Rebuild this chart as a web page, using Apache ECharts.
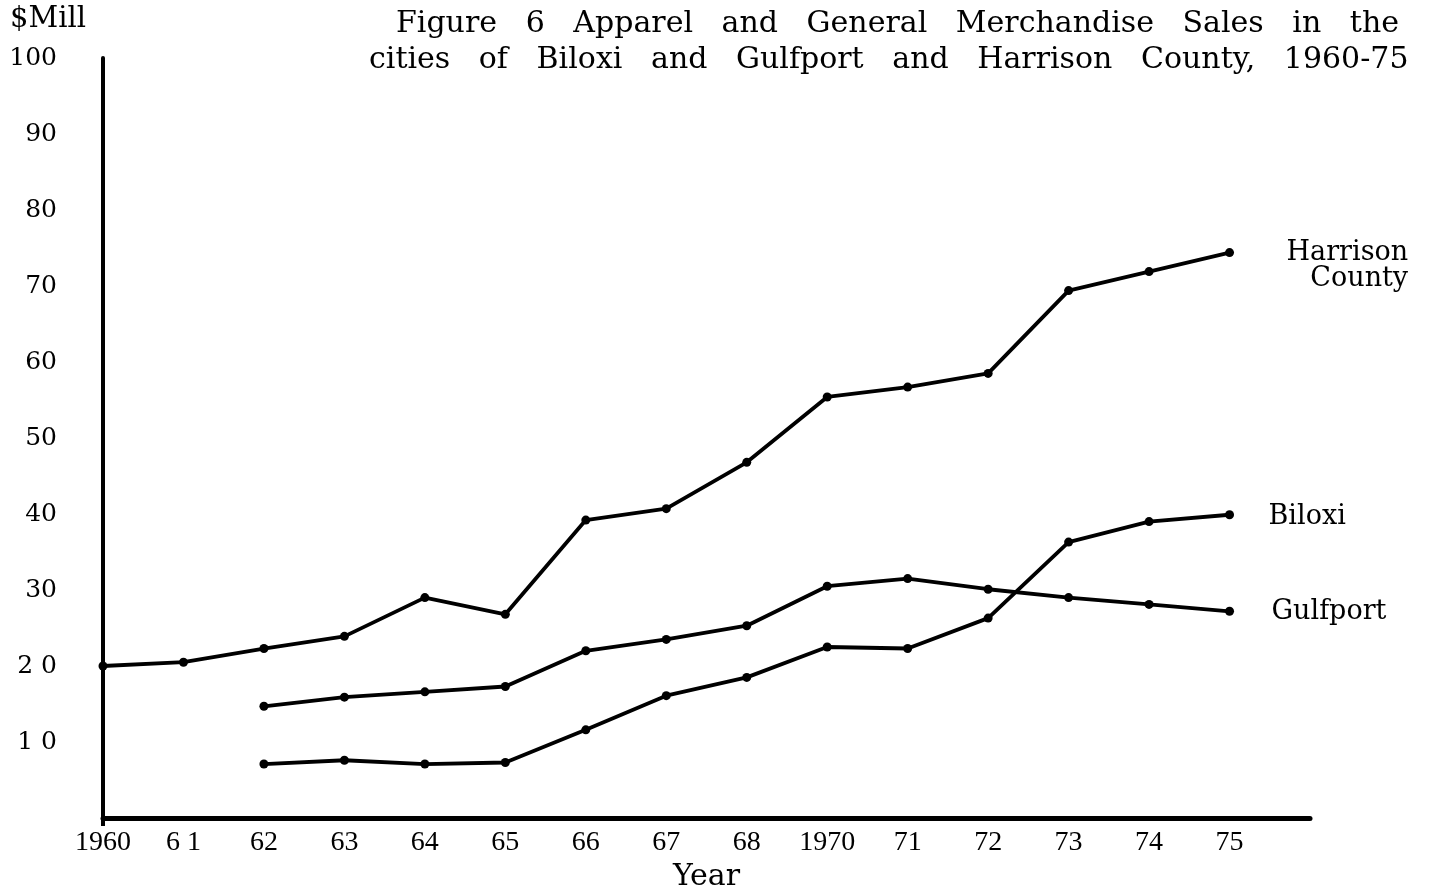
<!DOCTYPE html>
<html>
<head>
<meta charset="utf-8">
<title>Figure 6</title>
<script src="https://cdn.jsdelivr.net/npm/echarts@6/dist/echarts.min.js"></script>
<style>
  html, body { margin: 0; padding: 0; background: #fff; }
  #chart { width: 1452px; height: 893px; }
</style>
</head>
<body>
<div id="chart"></div>
<script>
// year labels as printed under the axis (no 1969 point); trailing '' only stretches the axis
var years = ['1960', '6 1', '62', '63', '64', '65', '66', '67', '68', '1970', '71', '72', '73', '74', '75', '']
// y tick labels, 0..100 by 10 (printed with the odd spacing of the original)
var yLabels = ['', '1 0', '2 0', '30', '40', '50', '60', '70', '80', '90', '100']

// $ millions
var harrison = [20, 20.5, 22.3, 23.9, 29, 26.8, 39.2, 40.7, 46.8, 55.4, 56.7, 58.5, 69.4, 71.9, 74.4]
var gulfport = [null, null, 14.7, 15.9, 16.6, 17.3, 22.0, 23.5, 25.3, 30.5, 31.5, 30.1, 29.0, 28.1, 27.2]
var biloxi = [null, null, 7.1, 7.6, 7.1, 7.3, 11.6, 16.1, 18.5, 22.5, 22.3, 26.3, 36.3, 39.0, 39.9]

var serif = 'DejaVu Serif'
var chart = echarts.init(document.getElementById('chart'))

function lineSeries(name, data, label, distance, offsetY) {
  return {
    name: name,
    type: 'line',
    data: data,
    symbol: 'circle',
    symbolSize: 9,
    connectNulls: false,
    lineStyle: { color: '#000', width: 3.8 },
    itemStyle: { color: '#000' },
    animation: false,
    endLabel: {
      show: true,
      distance: distance,
      offset: [0, offsetY],
      formatter: label,
      color: '#000',
      fontFamily: serif,
      fontSize: 27,
      lineHeight: 26,
      rich: {
        r: { align: 'right', fontFamily: serif, fontSize: 27, lineHeight: 26, color: '#000' }
      }
    }
  }
}

chart.setOption({
  backgroundColor: '#fff',
  animation: false,
  // keep the plot box where it is; v6 would otherwise shrink it to fit the axis name
  grid: { left: 103, right: 142, top: 58, bottom: 75, outerBoundsMode: 'none' },
  xAxis: {
    type: 'category',
    data: years,
    boundaryGap: false,
    name: 'Year',
    nameLocation: 'middle',
    nameGap: 44,
    nameTextStyle: { fontFamily: serif, fontSize: 30, color: '#000' },
    axisLine: { lineStyle: { color: '#000', width: 5 } },
    // only the 1960 corner pokes below the axis in the original
    axisTick: {
      show: true,
      length: 8,
      interval: function (i) { return i === 0 },
      lineStyle: { color: '#000', width: 4 }
    },
    axisLabel: { color: '#000', fontFamily: 'Liberation Serif', fontSize: 28, margin: 11 },
    splitLine: { show: false }
  },
  yAxis: {
    type: 'value',
    min: 0,
    max: 100,
    interval: 10,
    axisLine: { show: true, lineStyle: { color: '#000', width: 4 } },
    axisTick: { show: false },
    splitLine: { show: false },
    axisLabel: {
      color: '#000',
      fontFamily: serif,
      fontSize: 25,
      margin: 46,
      formatter: function (v) { return yLabels[Math.round(v / 10)] }
    }
  },
  graphic: [
    { type: 'text', left: 10, top: 5, style: { text: '$Mill', font: '29px "DejaVu Serif"', fill: '#000' } },
    { type: 'text', left: 396, top: 9, style: { text: 'Figure   6   Apparel   and   General   Merchandise   Sales   in   the', font: '30px "DejaVu Serif"', fill: '#000' } },
    { type: 'text', left: 369, top: 45, style: { text: 'cities   of   Biloxi   and   Gulfport   and   Harrison   County,   1960-75', font: '30px "DejaVu Serif"', fill: '#000' } }
  ],
  series: [
    lineSeries('Harrison County', harrison, '{r|Harrison}\n{r|County}', 57, 13),
    lineSeries('Gulfport', gulfport, 'Gulfport', 42, 1),
    lineSeries('Biloxi', biloxi, 'Biloxi', 39, 2)
  ]
})
</script>
</body>
</html>
